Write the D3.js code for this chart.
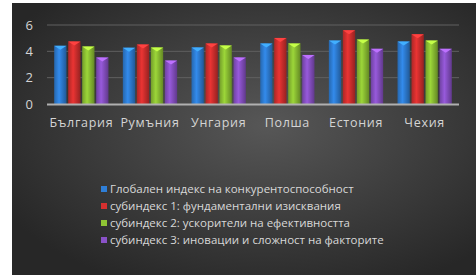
<!DOCTYPE html>
<meta charset="utf-8">
<style>
  body { margin: 0; background: #fff; }
  text { font-family: "Open Sans", "DejaVu Sans", sans-serif; }
</style>
<body>
<div id="chart"></div>
<script src="https://d3js.org/d3.v7.min.js"></script>
<script>
var countries = ["България", "Румъния", "Унгария", "Полша", "Естония", "Чехия"];
var seriesNames = [
  "Глобален индекс на конкурентоспособност",
  "субиндекс 1: фундаментални изисквания",
  "субиндекс 2: ускорители на ефективността",
  "субиндекс 3: иновации и сложност на факторите"
];
var gci  = [4.42, 4.28, 4.30, 4.60, 4.82, 4.75];
var sub1 = [4.75, 4.52, 4.60, 5.02, 5.60, 5.30];
var sub2 = [4.37, 4.30, 4.45, 4.60, 4.90, 4.82];
var sub3 = [3.54, 3.30, 3.54, 3.73, 4.19, 4.19];
var yTicks = [0, 2, 4, 6];
var colors = ["#2f7fd8", "#d6302f", "#8fc434", "#8a52c8"];

var series = [gci, sub1, sub2, sub3];
var W = 476, H = 275;

var svg = d3.select("#chart").append("svg")
  .attr("width", W).attr("height", H);

var defs = svg.append("defs");
var bg = defs.append("radialGradient").attr("id", "bg")
  .attr("cx", "55%").attr("cy", "45%").attr("r", "65%");
bg.append("stop").attr("offset", "0%").attr("stop-color", "#575757");
bg.append("stop").attr("offset", "100%").attr("stop-color", "#272727");

colors.forEach(function(c, i) {
  var g = defs.append("linearGradient").attr("id", "bar" + i)
    .attr("x1", "0%").attr("x2", "100%").attr("y1", "0%").attr("y2", "0%");
  var c0 = d3.color(c);
  g.append("stop").attr("offset", "0%").attr("stop-color", c0.darker(0.6));
  g.append("stop").attr("offset", "40%").attr("stop-color", c0.brighter(0.25));
  g.append("stop").attr("offset", "100%").attr("stop-color", c0.darker(1.0));
});

svg.append("rect").attr("x", 12).attr("y", 3)
  .attr("width", W - 12).attr("height", H - 3)
  .attr("fill", "url(#bg)");

var margin = {top: 25, left: 47, right: 17},
  plotH = 79;
var x = d3.scaleBand().domain(countries).range([margin.left, W - margin.right])
  .paddingInner(0.16).paddingOuter(0.08);
var xs = d3.scaleBand().domain(d3.range(4)).range([0, x.bandwidth()]).padding(0.12);
var y = d3.scaleLinear().domain([0, 6]).range([margin.top + plotH, margin.top]);

// gridlines
svg.append("g").selectAll("line").data(yTicks.filter(function(d) { return d > 0; }))
  .join("line")
  .attr("x1", margin.left).attr("x2", W - margin.right)
  .attr("y1", function(d) { return y(d); }).attr("y2", function(d) { return y(d); })
  .attr("stroke", "#606060").attr("stroke-width", 1);

// y axis labels
var yAxis = d3.axisLeft(y).tickValues(yTicks).tickFormat(d3.format("d"))
  .tickSize(0).tickPadding(14);
var ya = svg.append("g").attr("transform", "translate(" + margin.left + ",0)").call(yAxis);
ya.select(".domain").remove();
ya.selectAll("text").attr("fill", "#d4d4d4").style("font-size", "13px");

// bars
var groups = svg.append("g").selectAll("g").data(countries).join("g")
  .attr("transform", function(d) { return "translate(" + x(d) + ",0)"; });

groups.each(function(c, ci) {
  var g = d3.select(this);
  series.forEach(function(s, si) {
    var bx = xs(si), bw = xs.bandwidth(), top = y(s[ci]);
    g.append("rect").attr("x", bx).attr("y", top)
      .attr("width", bw).attr("height", y(0) - top)
      .attr("fill", "url(#bar" + si + ")");
    g.append("path")
      .attr("d", "M" + bx + "," + top + "L" + (bx + bw) + "," + top + "L" + (bx + bw / 2) + "," + (top + 4) + "Z")
      .attr("fill", d3.color(colors[si]).brighter(0.9));
  });
});

// x axis
svg.append("line").attr("x1", margin.left).attr("x2", W - margin.right)
  .attr("y1", y(0) + 0.5).attr("y2", y(0) + 0.5)
  .attr("stroke", "#b0b0b0").attr("stroke-width", 2);

var xAxis = d3.axisBottom(x).tickSize(0).tickPadding(14);
var xa = svg.append("g").attr("transform", "translate(0," + y(0) + ")").call(xAxis);
xa.select(".domain").remove();
xa.selectAll("text").attr("fill", "#d4d4d4").style("font-size", "12.5px")
  .style("letter-spacing", "0.7px");

// legend
var leg = svg.append("g").selectAll("g").data(seriesNames).join("g")
  .attr("transform", function(d, i) { return "translate(101," + (189 + i * 17) + ")"; });
leg.append("rect").attr("x", 0).attr("y", -3).attr("width", 6).attr("height", 6)
  .attr("fill", function(d, i) { return colors[i]; });
leg.append("text").attr("x", 9).attr("y", 0).attr("dy", "0.35em")
  .attr("fill", "#d8d8d8").style("font-size", "11.5px")
  .text(function(d) { return d; });
</script>
</body>
